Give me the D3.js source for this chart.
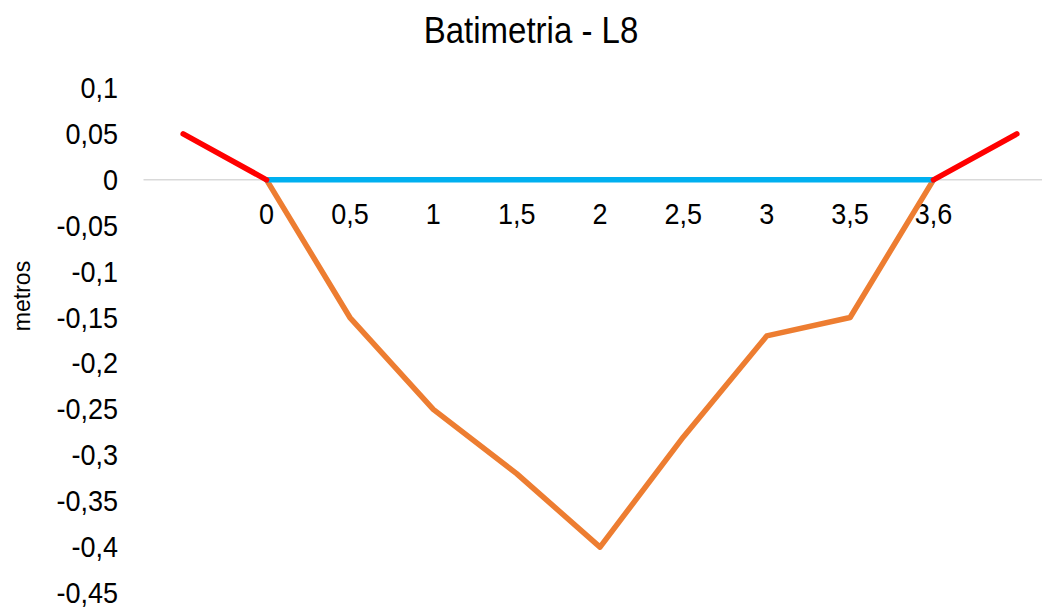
<!DOCTYPE html>
<html>
<head>
<meta charset="utf-8">
<script src="https://cdn.jsdelivr.net/npm/d3@7"></script>
<style>
    body { margin: 0; background: #fff; }
    text { font-family: Arial, "Liberation Sans", sans-serif; fill: #000; }
</style>
</head>
<body>
<div id="chart"></div>
<script>
    var categories = ['', '0', '0,5', '1', '1,5', '2', '2,5', '3', '3,5', '3,6', ''];
    var fundo = [null, 0, -0.15, -0.25, -0.32, -0.4, -0.28, -0.17, -0.15, 0, null];
    var lamina = [null, 0, 0, 0, 0, 0, 0, 0, 0, 0, null];
    var margem = [0.05, 0, null, null, null, null, null, null, null, 0, 0.05];
    var yTicks = [0.1, 0.05, 0, -0.05, -0.1, -0.15, -0.2, -0.25, -0.3, -0.35, -0.4, -0.45];

    var width = 1042,
        height = 608;

    // text in the picture is stretched a bit vertically
    var stretch = 1.1;

    var svg = d3.select('#chart')
        .append('svg')
        .attr('width', width)
        .attr('height', height);

    var x = d3.scaleBand()
        .domain(d3.range(categories.length))
        .range([141.5, 1058.5]);

    var y = d3.scaleLinear()
        .domain([-0.45, 0.1])
        .range([593, 88]);

    function cx(i) {
        return x(i) + x.bandwidth() / 2;
    }

    function fmt(v) {
        return String(Math.round(v * 100) / 100).replace('.', ',');
    }

    function label(tx, ty, str, size, anchor) {
        return svg.append('text')
            .attr('transform', 'translate(' + tx + ',' + ty + ') scale(1,' + stretch + ')')
            .attr('text-anchor', anchor)
            .style('font-size', size + 'px')
            .text(str);
    }

    // title
    label(531, 43, 'Batimetria - L8', 33, 'middle');

    // y axis title
    svg.append('text')
        .attr('transform', 'translate(30,296) rotate(-90)')
        .attr('text-anchor', 'middle')
        .style('font-size', '23px')
        .text('metros');

    // y tick labels
    yTicks.forEach(function (t) {
        label(118, y(t) + 10, fmt(t), 27, 'end');
    });

    // zero line
    svg.append('line')
        .attr('x1', x.range()[0] + 2)
        .attr('x2', x.range()[1])
        .attr('y1', y(0))
        .attr('y2', y(0))
        .attr('stroke', '#d9d9d9')
        .attr('stroke-width', 1.5);

    // category labels next to the zero line
    categories.forEach(function (c, i) {
        if (c !== '')
            label(cx(i), y(0) + 44, c, 27, 'middle');
    });

    var line = d3.line()
        .defined(function (d) { return d !== null; })
        .x(function (d, i) { return cx(i); })
        .y(function (d) { return y(d); });

    var series = [
        { values: fundo, color: '#ed7d31' },
        { values: lamina, color: '#00b0f0' },
        { values: margem, color: '#ff0000' }
    ];

    svg.selectAll('.serie')
        .data(series)
        .enter()
        .append('path')
        .attr('class', 'serie')
        .attr('d', function (d) { return line(d.values); })
        .attr('fill', 'none')
        .attr('stroke', function (d) { return d.color; })
        .attr('stroke-width', 5.5)
        .attr('stroke-linejoin', 'round')
        .attr('stroke-linecap', 'round');
</script>
</body>
</html>
